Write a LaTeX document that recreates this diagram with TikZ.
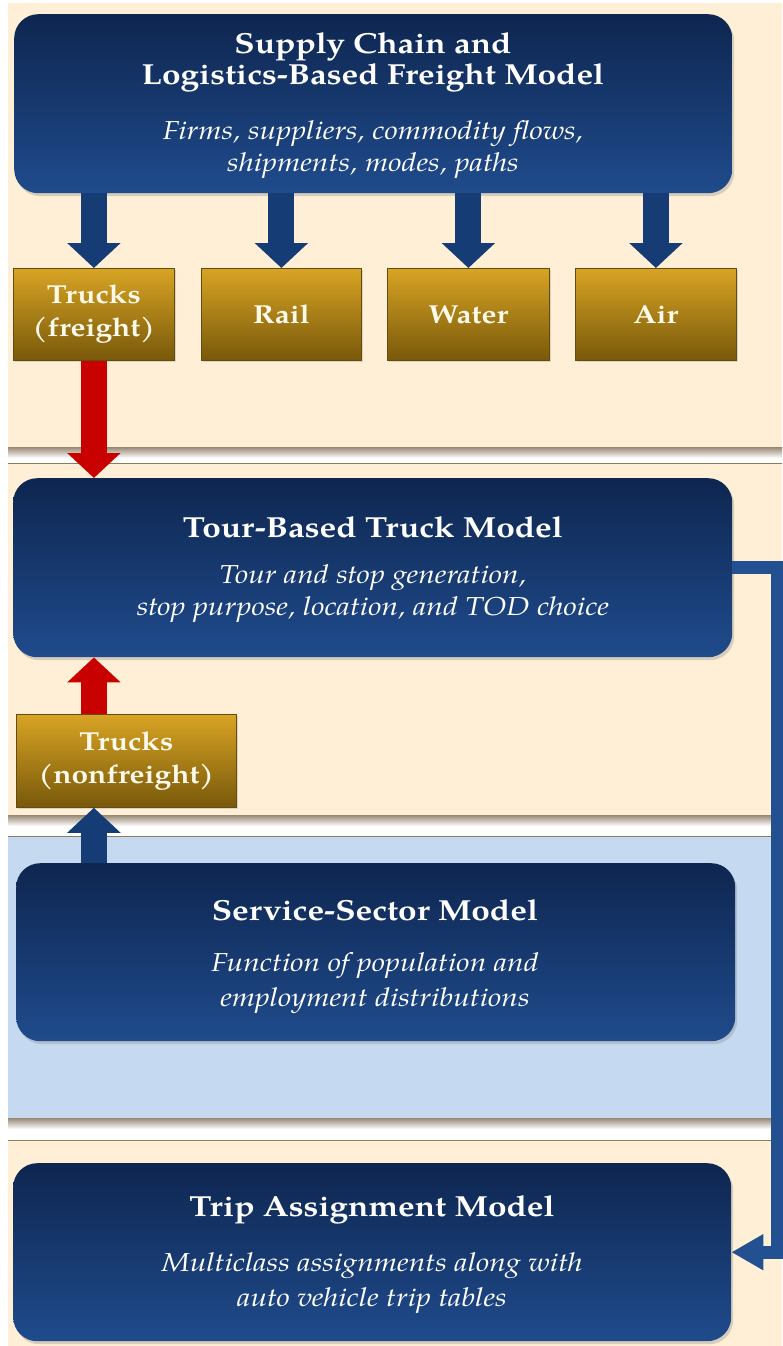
\documentclass[tikz,border=0pt]{standalone}
\usepackage{fontspec}
\IfFontExistsTF{TeX Gyre Pagella}{\setmainfont{TeX Gyre Pagella}[FakeStretch=1.15]}{\setmainfont{Liberation Serif}[FakeStretch=1.2]}
\usetikzlibrary{arrows.meta,shadows}
\definecolor{cream}{RGB}{254,239,214}
\definecolor{lblue}{RGB}{197,217,241}
\definecolor{navytop}{RGB}{14,38,80}
\definecolor{navybot}{RGB}{31,75,140}
\definecolor{goldtop}{RGB}{216,164,36}
\definecolor{goldbot}{RGB}{120,88,10}
\definecolor{goldedge}{RGB}{100,75,15}
\definecolor{arrowblue}{RGB}{22,60,118}
\definecolor{linkblue}{RGB}{35,80,145}
\definecolor{arrowred}{RGB}{200,0,0}
\definecolor{sepshadow}{RGB}{150,135,115}
\definecolor{sepline}{RGB}{140,125,90}
\definecolor{textcream}{RGB}{255,250,235}
\begin{document}
\begin{tikzpicture}[x=1pt,y=-1pt,
  modelbox/.style={rounded corners=24pt, top color=navytop, bottom color=navybot, draw=none,
    anchor=north west, inner sep=0pt,
    drop shadow={shadow xshift=2pt,shadow yshift=-3pt,opacity=0.3}},
  modebox/.style={top color=goldtop, bottom color=goldbot, draw=goldedge, line width=0.8pt,
    anchor=north west, inner sep=0pt, minimum height=92pt,
    drop shadow={shadow xshift=2pt,shadow yshift=-2pt,opacity=0.25}},
  titletext/.style={text=white, font=\fontsize{29}{31}\selectfont\bfseries, align=center},
  desctext/.style={text=white, font=\fontsize{26}{32}\selectfont\itshape, align=center},
  desctextwide/.style={text=white, font=\fontsize{26}{35}\selectfont\itshape, align=center},
  modetext/.style={text=textcream, font=\fontsize{26}{33}\selectfont\bfseries, align=center},
  blockarrow/.style={line width=26pt, -{Triangle[length=25pt,width=52pt]}},
  linkarrow/.style={linkblue, line width=13pt, -{Triangle[length=32pt,width=34pt]}},
  sepshade/.style={top color=sepshadow, bottom color=white},
  septhin/.style={sepline, line width=1pt}
]
\useasboundingbox (0,0) rectangle (782,1346);
% background bands
\fill[white] (0,0) rectangle (782,1346);
\fill[cream] (8,3) rectangle (782,447);
\shade[sepshade] (8,447) rectangle (782,458);
\draw[septhin] (8,463.5) -- (782,463.5);
\fill[cream] (8,464) rectangle (782,815);
\shade[sepshade] (8,815) rectangle (782,826);
\draw[septhin] (8,836.5) -- (782,836.5);
\fill[lblue] (8,837) rectangle (782,1118);
\shade[sepshade] (8,1118) rectangle (782,1129);
\draw[septhin] (8,1140.5) -- (782,1140.5);
\fill[cream] (8,1141) rectangle (782,1346);

% supply chain model
\node[modelbox, minimum width=718pt, minimum height=179pt] (sc) at (14,14) {};
\node[titletext] (sct) at (373,62) {Supply Chain and\\Logistics-Based Freight Model};
\node[desctext] (scd) at (373,150) {Firms, suppliers, commodity flows,\\shipments, modes, paths};

% modes
\node[modebox, modetext, minimum width=161pt] (trf) at (13,268) {Trucks\\(freight)};
\node[modebox, modetext, minimum width=160pt] (rail) at (201,268) {Rail};
\node[modebox, modetext, minimum width=162pt] (water) at (387,268) {Water};
\node[modebox, modetext, minimum width=161pt] (air) at (575,268) {Air};

% tour-based truck model
\node[modelbox, minimum width=719pt, minimum height=179pt] (tour) at (13,478) {};
\node[titletext] (tourt) at (373,527) {Tour-Based Truck Model};
\node[desctext] (tourd) at (373,594) {Tour and stop generation,\\stop purpose, location, and TOD choice};

% nonfreight trucks
\node[modebox, modetext, minimum width=220pt, minimum height=93pt] (nf) at (16,714) {Trucks\\(nonfreight)};

% service sector
\node[modelbox, minimum width=719pt, minimum height=178pt] (serv) at (16,863) {};
\node[titletext] (servt) at (375,910) {Service-Sector Model};
\node[desctextwide] (servd) at (375,983) {Function of population and\\employment distributions};

% trip assignment
\node[modelbox, minimum width=718pt, minimum height=178pt] (trip) at (13,1163) {};
\node[titletext] (tript) at (372,1210) {Trip Assignment Model};
\node[desctextwide] (tripd) at (372,1283) {Multiclass assignments along with\\auto vehicle trip tables};

% arrows
\foreach \m in {trf,rail,water,air}
  \draw[blockarrow, arrowblue] (\m.north |- sc.south) -- (\m.north);
\draw[blockarrow, arrowred] (trf.south) -- (trf.south |- tour.north);
\draw[blockarrow, arrowred] (nf.north -| trf.south) -- (tour.south -| trf.south);
\draw[blockarrow, arrowblue] (serv.north -| trf.south) -- (nf.south -| trf.south);
\draw[linkarrow] (tour.east) -- ++(45.5,0) |- (trip.east);
\end{tikzpicture}
\end{document}
